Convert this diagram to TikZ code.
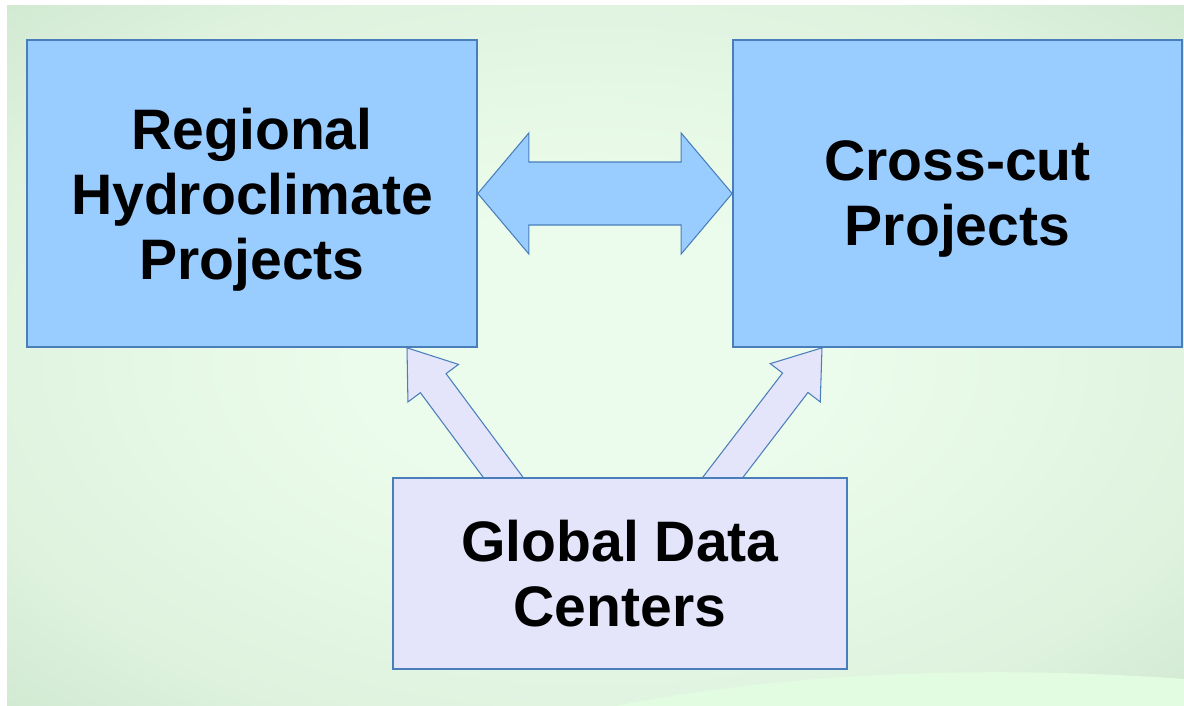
\documentclass[tikz,border=0pt]{standalone}
\usepackage{fontspec}
\setmainfont{Liberation Sans}
\usetikzlibrary{calc}

\definecolor{boxblue}{RGB}{153,204,255}
\definecolor{edgeblue}{RGB}{74,126,187}
\definecolor{lavender}{RGB}{228,228,250}
\definecolor{bginner}{RGB}{236,252,236}
\definecolor{bgsoft}{RGB}{222,242,222}
\definecolor{bgouter}{RGB}{186,215,186}
\definecolor{wavegreen}{RGB}{226,252,226}

\pgfdeclareradialshading{bgglow}{\pgfpoint{0bp}{0bp}}{color(0bp)=(bginner); color(10bp)=(bginner); color(28bp)=(bgsoft); color(50bp)=(bgouter)}

\pgfdeclarelayer{back}
\pgfdeclarelayer{arrows}
\pgfsetlayers{back,arrows,main}

% block arrow from #1 (base) to #2 (tip)
\newcommand{\blockup}[2]{%
    \coordinate (ab) at ($(#2)!1.1!(#1)$);
    \coordinate (ah) at ($(#2)!0.88cm!(#1)$);
    \draw[feedarrow] ($(ab)!0.32cm!90:(#2)$) -- ($(ah)!0.32cm!90:(#2)$)
        -- ($(ah)!0.63cm!90:(#2)$) -- (#2) -- ($(ah)!0.63cm!-90:(#2)$)
        -- ($(ah)!0.32cm!-90:(#2)$) -- ($(ab)!0.32cm!-90:(#2)$) -- cycle;
}

\begin{document}
\begin{tikzpicture}[x=0.02cm, y=-0.02cm,
        projbox/.style={draw=edgeblue, line width=1pt, fill=boxblue, align=center,
            font=\fontsize{32.5}{37}\selectfont\bfseries, text depth=0pt,
            minimum height=6.14cm, inner sep=0pt},
        databox/.style={projbox, fill=lavender, minimum width=9.08cm, minimum height=3.82cm},
        linkarrow/.style={draw=edgeblue, line width=0.6pt, fill=boxblue, line join=miter},
        feedarrow/.style={draw=edgeblue, line width=0.6pt, fill=lavender, line join=miter}]
    \useasboundingbox (0,0) rectangle (1184,706);

    % Background
    \begin{pgfonlayer}{back}
        \fill[white] (0,0) rectangle (1184,706);
        \shade[shading=bgglow] (7,6) rectangle (1184,706);
        \fill[wavegreen] (615,706) .. controls (800,670) and (1000,666) .. (1184,679)
            -- (1184,706) -- cycle;
    \end{pgfonlayer}

    % Boxes
    \node[projbox, minimum width=9cm] (reg) at (252,193.5) {Regional\\Hydroclimate\\Projects};
    \node[projbox, minimum width=8.98cm] (cc) at (957.5,193.5) {Cross-cut\\Projects};
    \node[databox] (gdc) at (620,573.5) {Global Data\\Centers};

    % Arrows
    \begin{pgfonlayer}{arrows}
        \draw[linkarrow] (reg.east) -- ($(reg.east)+(51,-60.5)$) -- ($(reg.east)+(51,-31.5)$)
            -- ($(cc.west)+(-51,-31.5)$) -- ($(cc.west)+(-51,-60.5)$) -- (cc.west)
            -- ($(cc.west)+(-51,60.5)$) -- ($(cc.west)+(-51,31.5)$)
            -- ($(reg.east)+(51,31.5)$) -- ($(reg.east)+(51,60.5)$) -- cycle;
        \coordinate (regin) at ($(reg.south)+(155,0)$);
        \coordinate (ccin) at ($(cc.south)+(-135.5,0)$);
        \coordinate (gdcl) at ($(gdc.north)+(-117,0)$);
        \coordinate (gdcr) at ($(gdc.north)+(103,0)$);
        \blockup{gdcl}{regin}
        \blockup{gdcr}{ccin}
    \end{pgfonlayer}
\end{tikzpicture}
\end{document}
